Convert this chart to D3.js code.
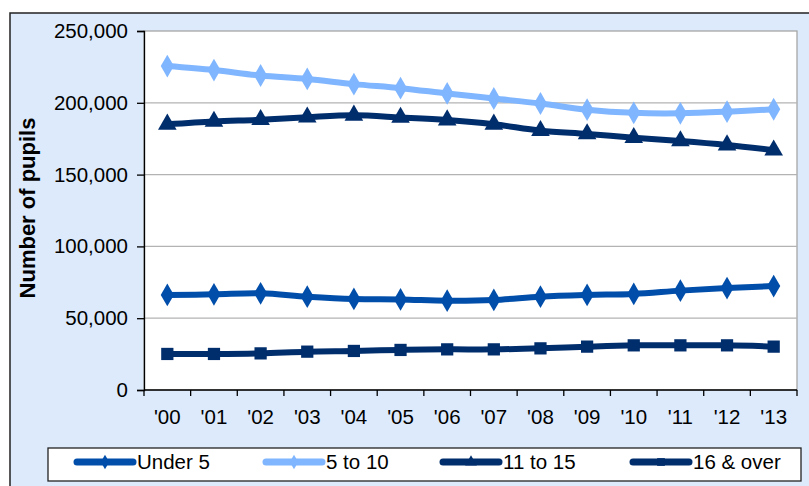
<!DOCTYPE html>
<html>
 <head>
    <script src="https://d3js.org/d3.v7.min.js"></script>
    <style>
      body { margin: 0; background: #fff; }
      text { font-family: Arial, "Liberation Sans", sans-serif; fill: #000; }
    </style>
 </head>
 <body>
    <div id="chart"></div>
<script>

// data
var years = ["'00", "'01", "'02", "'03", "'04", "'05", "'06", "'07", "'08", "'09", "'10", "'11", "'12", "'13"];
var under5   = [66200, 66600, 67300, 65000, 63400, 63100, 62200, 62700, 65000, 66200, 66900, 69200, 71000, 72400];
var age5to10 = [225600, 222800, 219000, 216600, 213000, 210200, 206500, 203000, 199500, 195200, 193000, 192700, 193800, 195500];
var age11to15 = [185000, 187000, 188200, 190000, 191300, 189800, 188000, 185000, 180600, 178300, 175700, 173400, 170600, 167000];
var age16over = [25100, 25100, 25500, 26700, 27200, 27900, 28300, 28300, 29000, 30200, 31100, 31100, 31100, 30200];
var yTicks = [0, 50000, 100000, 150000, 200000, 250000];

var series = [
  {name: "Under 5",    values: under5,    color: "#004EAA", symbol: d3.symbolDiamond,  size: 150},
  {name: "5 to 10",    values: age5to10,  color: "#80B6FF", symbol: d3.symbolDiamond,  size: 150},
  {name: "11 to 15",   values: age11to15, color: "#002D6C", symbol: d3.symbolTriangle, size: 150},
  {name: "16 & over",  values: age16over, color: "#002D6C", symbol: d3.symbolSquare,   size: 150}
];

var W = 809, H = 486;
var plot = {left: 144, right: 797, top: 31, bottom: 390};

var svg = d3.select("#chart")
  .append("svg")
    .attr("width", W)
    .attr("height", H);

// outer frame (continues past the window on the right and bottom)
svg.append("rect")
  .attr("x", 10).attr("y", 13)
  .attr("width", W + 20).attr("height", H + 20)
  .attr("fill", "#DCEAFC")
  .attr("stroke", "#222")
  .attr("stroke-width", 1.5);

// plot area
svg.append("rect")
  .attr("x", plot.left).attr("y", plot.top)
  .attr("width", plot.right - plot.left).attr("height", plot.bottom - plot.top)
  .attr("fill", "#fff")
  .attr("stroke", "#A6A6A6")
  .attr("stroke-width", 1.3);

var x = d3.scaleBand()
  .domain(years)
  .range([plot.left, plot.right]);

var y = d3.scaleLinear()
  .domain([0, 250000])
  .range([plot.bottom, plot.top]);

// gridlines
svg.append("g")
  .selectAll("line")
  .data(yTicks.slice(1, -1))
  .join("line")
    .attr("x1", plot.left).attr("x2", plot.right)
    .attr("y1", d => y(d)).attr("y2", d => y(d))
    .attr("stroke", "#B3B3B3")
    .attr("stroke-width", 1.3);

// y axis
var yAxis = svg.append("g")
  .attr("transform", "translate(" + plot.left + ",0)")
  .call(d3.axisLeft(y).tickValues(yTicks).tickFormat(d3.format(",")).tickSize(7).tickPadding(9));
yAxis.selectAll("path, line").attr("stroke", "#000").attr("stroke-width", 1.3);
yAxis.selectAll("text").attr("font-size", 20.5).attr("font-family", "Arial, 'Liberation Sans', sans-serif");

// x axis: baseline, ticks at band boundaries, labels at centres
var xAxis = svg.append("g");
xAxis.append("line")
  .attr("x1", plot.left).attr("x2", plot.right)
  .attr("y1", plot.bottom).attr("y2", plot.bottom)
  .attr("stroke", "#000").attr("stroke-width", 1.3);
xAxis.selectAll(".tk")
  .data(years.concat(["end"]))
  .join("line")
    .attr("class", "tk")
    .attr("x1", (d, i) => plot.left + i * x.step())
    .attr("x2", (d, i) => plot.left + i * x.step())
    .attr("y1", plot.bottom).attr("y2", plot.bottom + 6)
    .attr("stroke", "#000").attr("stroke-width", 1.3);
xAxis.selectAll("text")
  .data(years)
  .join("text")
    .attr("x", d => x(d) + x.bandwidth() / 2)
    .attr("y", 424)
    .attr("text-anchor", "middle")
    .attr("font-size", 20.5)
    .text(d => d);

// axis title
svg.append("text")
  .attr("transform", "translate(35,208) rotate(-90)")
  .attr("text-anchor", "middle")
  .attr("font-size", 22)
  .attr("font-weight", "bold")
  .text("Number of pupils");

// lines and markers
var line = d3.line()
  .x((d, i) => x(years[i]) + x.bandwidth() / 2)
  .y(d => y(d))
  .curve(d3.curveCatmullRom.alpha(0.5));

series.forEach(function(s) {
  svg.append("path")
    .datum(s.values)
    .attr("fill", "none")
    .attr("stroke", s.color)
    .attr("stroke-width", 6)
    .attr("stroke-linejoin", "round")
    .attr("d", line);

  svg.append("g")
    .selectAll("path")
    .data(s.values)
    .join("path")
      .attr("transform", (d, i) => "translate(" + (x(years[i]) + x.bandwidth() / 2) + "," + y(d) + ")")
      .attr("d", d3.symbol().type(s.symbol).size(s.size))
      .attr("fill", s.color);
});

// legend
svg.append("rect")
  .attr("x", 48).attr("y", 448)
  .attr("width", 753).attr("height", 33)
  .attr("fill", "#fff")
  .attr("stroke", "#222")
  .attr("stroke-width", 1.3);

var legendX = [77, 266, 443, 633];
var leg = svg.append("g")
  .selectAll("g")
  .data(series)
  .join("g")
    .attr("transform", (d, i) => "translate(" + legendX[i] + ",462)");
leg.append("line")
  .attr("x1", 0).attr("x2", 56)
  .attr("stroke", d => d.color)
  .attr("stroke-width", 7)
  .attr("stroke-linecap", "round");
leg.append("path")
  .attr("transform", "translate(28,0)")
  .attr("d", d => d3.symbol().type(d.symbol).size(60)())
  .attr("fill", d => d.color);
leg.append("text")
  .attr("x", 60)
  .attr("y", 7)
  .attr("font-size", 20.5)
  .text(d => d.name);

</script>
 </body>
</html>
